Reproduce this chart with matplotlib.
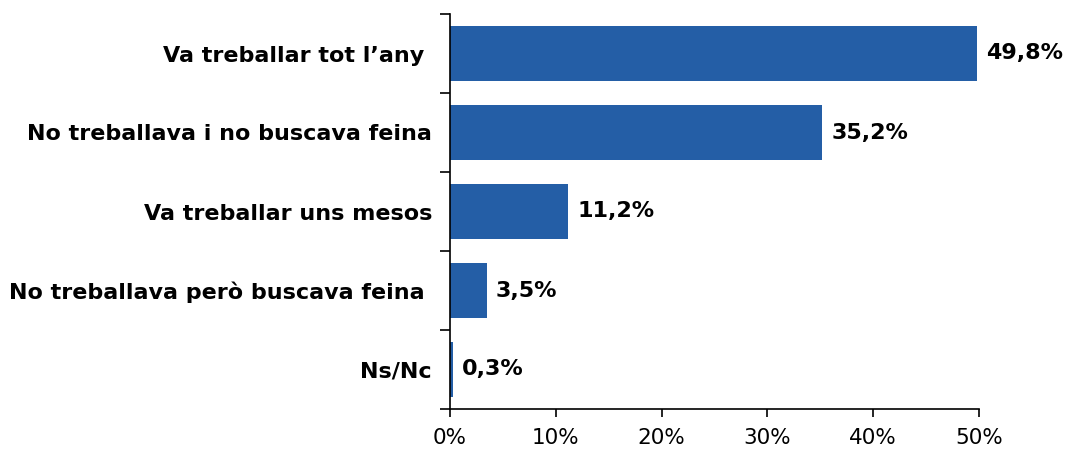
import matplotlib
matplotlib.use("Agg")
import matplotlib.pyplot as plt
import numpy as np

# data
categories = ["Va treballar tot l\u2019any ", "No treballava i no buscava feina",
              "Va treballar uns mesos", "No treballava però buscava feina ", "Ns/Nc"]
values = [49.8, 35.2, 11.2, 3.5, 0.3]
value_labels = ["49,8%", "35,2%", "11,2%", "3,5%", "0,3%"]
xticks = [0, 10, 20, 30, 40, 50]
xtick_labels = ["0%", "10%", "20%", "30%", "40%", "50%"]

bar_color = "#245EA6"

fig = plt.figure(figsize=(10.74, 4.49), dpi=100)
ax = fig.add_axes([450 / 1074, 1 - 409 / 449, (979 - 450) / 1074, (409 - 14) / 449])

y = np.arange(len(categories))
ax.barh(y, values, height=0.7, color=bar_color)
ax.set_ylim(len(categories) - 0.5, -0.5)
ax.set_xlim(0, 50)

for yi, v, lab in zip(y, values, value_labels):
    ax.annotate(lab, (v, yi), xytext=(6.5, 0), textcoords="offset points",
                va="center", ha="left", fontsize=16, fontweight="bold")

# category labels, ticks at the boundaries
ax.set_yticks(y)
ax.set_yticklabels(categories, fontsize=16, fontweight="bold")
ax.tick_params(axis="y", which="major", length=0, pad=13)
ax.set_yticks(np.arange(-0.5, len(categories)), minor=True)
ax.tick_params(axis="y", which="minor", length=7, width=1.2, direction="out")

ax.set_xticks(xticks)
ax.set_xticklabels(xtick_labels, fontsize=15.5)
ax.tick_params(axis="x", length=6, width=1.2, direction="out", pad=8)

for s in ["top", "right"]:
    ax.spines[s].set_visible(False)
ax.spines["left"].set_linewidth(1.2)
ax.spines["bottom"].set_linewidth(1.2)

fig.savefig("out.png", dpi=100)
